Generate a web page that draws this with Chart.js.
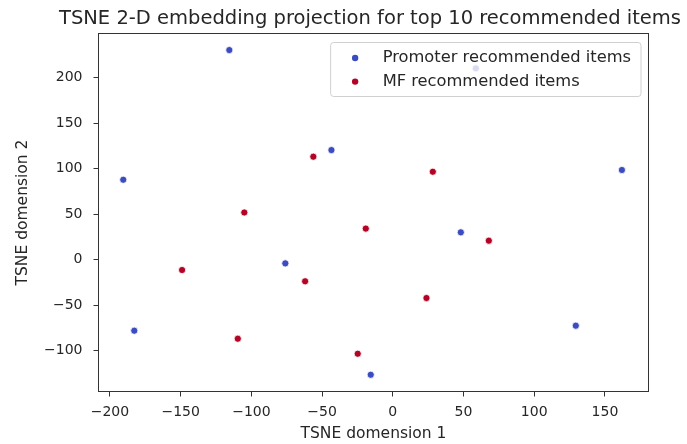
<!DOCTYPE html>
<html>
<head>
<meta charset="utf-8">
<script src="https://cdn.jsdelivr.net/npm/chart.js@4/dist/chart.umd.min.js"></script>
<style>
  html, body { margin: 0; padding: 0; background: #ffffff; }
  #wrap { width: 687px; height: 444px; position: relative; }
</style>
</head>
<body>
<div id="wrap"><canvas id="c"></canvas></div>
<script>
// TSNE coordinates of the top-10 items from each recommender
const promoterX = [-115.6, -43.4, -190.6, -76.0, -182.8, -15.6, 58.7, 162.0, 48.1, 129.4];
const promoterY = [230.4, 120.5, 87.9, -4.0, -78.0, -126.4, 210.3, 98.6, 30.1, -72.5];
const mfX = [-56.2, -105.0, -19.1, -149.0, -62.0, -109.6, -24.8, 28.3, 67.9, 23.8];
const mfY = [113.2, 51.9, 34.2, -11.3, -23.7, -86.8, -103.3, 96.7, 20.9, -42.1];

const seriesNames = ['Promoter recommended items', 'MF recommended items'];
const xTicks = [-200, -150, -100, -50, 0, 50, 100, 150];
const yTicks = [-100, -50, 0, 50, 100, 150, 200];
const titleText = 'TSNE 2-D embedding projection for top 10 recommended items';
const xLabel = 'TSNE domension 1';
const yLabel = 'TSNE domension 2';

const BLUE = '#3b4cc0';
const RED = '#b40426';
const FONT = "'DejaVu Sans', sans-serif";
const INK = '#262626';
const SPINE = '#333333';

const toPoints = (xs, ys) => xs.map((x, i) => ({ x: x, y: ys[i] }));
const fmt = v => String(v).replace('-', '\u2212');

// frame around the plot area + title above the axes
const framePlugin = {
  id: 'frame',
  afterDraw(chart) {
    const { ctx, chartArea: a } = chart;
    ctx.save();
    ctx.strokeStyle = SPINE;
    ctx.lineWidth = 1;
    ctx.strokeRect(a.left, a.top, a.right - a.left, a.bottom - a.top);
    ctx.fillStyle = INK;
    ctx.font = '19.5px ' + FONT;
    ctx.textAlign = 'center';
    ctx.textBaseline = 'alphabetic';
    ctx.fillText(titleText, (a.left + a.right) / 2 - 3.5, 24.3);
    ctx.restore();
  }
};

// semi-transparent legend box in the upper-right corner of the axes
const legendPlugin = {
  id: 'boxLegend',
  afterDatasetsDraw(chart) {
    const { ctx, chartArea: a } = chart;
    ctx.save();
    ctx.font = '16.3px ' + FONT;
    const tw = Math.max(...chart.data.datasets.map(d => ctx.measureText(d.label).width));
    const w = 52 + tw + 10;
    const h = 54;
    const right = a.right - 8;
    const left = right - w;
    const top = a.top + 8.5;
    ctx.beginPath();
    ctx.roundRect(left + 0.5, top + 0.5, w, h, 3);
    ctx.fillStyle = 'rgba(255,255,255,0.8)';
    ctx.fill();
    ctx.strokeStyle = '#d0d0d0';
    ctx.lineWidth = 1;
    ctx.stroke();
    chart.data.datasets.forEach((d, i) => {
      const cy = top + 16 + i * 23.6;
      ctx.beginPath();
      ctx.arc(left + 25, cy, 3.2, 0, Math.PI * 2);
      ctx.fillStyle = d.backgroundColor;
      ctx.fill();
      ctx.fillStyle = INK;
      ctx.textAlign = 'left';
      ctx.textBaseline = 'middle';
      ctx.fillText(d.label, left + 52.5, cy);
    });
    ctx.restore();
  }
};

new Chart(document.getElementById('c'), {
  type: 'scatter',
  data: {
    datasets: [
      {
        label: seriesNames[0],
        data: toPoints(promoterX, promoterY),
        backgroundColor: BLUE,
        borderColor: '#ffffff',
        borderWidth: 0.8,
        pointRadius: 3.6,
        pointHoverRadius: 3.6
      },
      {
        label: seriesNames[1],
        data: toPoints(mfX, mfY),
        backgroundColor: RED,
        borderColor: '#ffffff',
        borderWidth: 0.8,
        pointRadius: 3.6,
        pointHoverRadius: 3.6
      }
    ]
  },
  options: {
    responsive: true,
    maintainAspectRatio: false,
    animation: false,
    events: [],
    layout: { padding: { top: 33.5, right: 38.5, left: 0, bottom: 0 } },
    plugins: {
      legend: { display: false },
      title: { display: false },
      tooltip: { enabled: false }
    },
    scales: {
      x: {
        type: 'linear',
        min: -208.1,
        max: 180.8,
        afterBuildTicks: s => { s.ticks = xTicks.map(v => ({ value: v })); },
        afterFit: s => { s.height = 52.5; },
        border: { display: false },
        grid: { drawOnChartArea: false, drawTicks: true, tickLength: 5, color: SPINE, tickColor: SPINE },
        ticks: {
          padding: 7,
          color: INK,
          font: { family: FONT, size: 14 },
          maxRotation: 0,
          callback: v => fmt(v)
        },
        title: {
          display: true,
          text: xLabel,
          color: INK,
          font: { family: FONT, size: 15.5 },
          padding: { top: 0, bottom: 1.2 }
        }
      },
      y: {
        type: 'linear',
        min: -144.8,
        max: 248.6,
        afterBuildTicks: s => { s.ticks = yTicks.map(v => ({ value: v })); },
        afterFit: s => { s.width = 98.5; },
        border: { display: false },
        grid: { drawOnChartArea: false, drawTicks: true, tickLength: 5, color: SPINE, tickColor: SPINE },
        ticks: {
          padding: 11,
          color: INK,
          font: { family: FONT, size: 14 },
          callback: v => fmt(v)
        },
        title: {
          display: true,
          text: yLabel,
          color: INK,
          font: { family: FONT, size: 15.5 },
          padding: { top: 13.2, bottom: 0 }
        }
      }
    }
  },
  plugins: [framePlugin, legendPlugin]
});
</script>
</body>
</html>
